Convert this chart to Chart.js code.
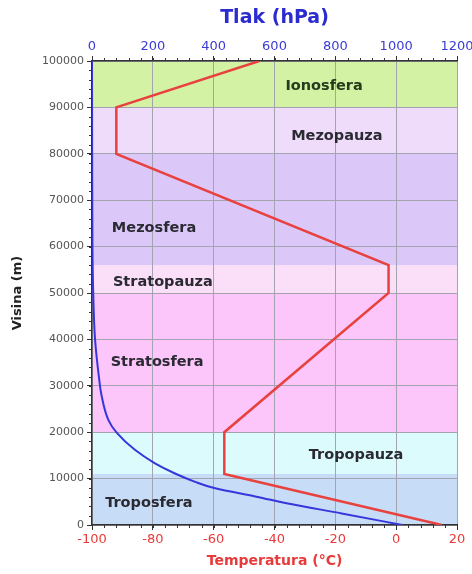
<!DOCTYPE html>
<html>
<head>
<meta charset="utf-8">
<script src="https://cdn.jsdelivr.net/npm/chart.js@4/dist/chart.umd.min.js"></script>
<style>
  html, body { margin: 0; padding: 0; background: #fff; }
  #wrap { width: 472px; height: 574px; }
</style>
</head>
<body>
<div id="wrap"><canvas id="chart"></canvas></div>
<script>
// temperature profile (°C vs altitude m)
const tempAlt = [0, 11000, 20000, 50000, 56000, 80000, 90000, 100000];
const tempVal = [15, -56.5, -56.5, -2.5, -2.5, -92, -92, -45];

// pressure profile (hPa vs altitude m)
const presAlt = [0, 2500, 4450, 6100, 7900, 9300, 11100, 13300, 16200, 19900, 22600, 28400, 31200, 40000, 50000, 60000, 80000, 100000];
const presVal = [1020, 821, 658, 540, 405, 339, 273, 207, 141, 81, 54, 30, 24, 10, 4, 1.5, 0.5, 0];

// atmosphere layers
const layerNames = ['Troposfera', 'Tropopauza', 'Stratosfera', 'Stratopauza', 'Mezosfera', 'Mezopauza', 'Ionosfera'];
const layerFrom = [0, 11000, 20000, 50000, 56000, 80000, 90000];
const layerTo = [11000, 20000, 50000, 56000, 80000, 90000, 100000];

const layerColors = ['#c6dcf7', '#dcfbfc', '#fcc6fb', '#fbdff9', '#dbc8f8', '#efdcfa', '#d3f2a4'];
// label anchor in data units: [temperature, altitude]
const labelAnchor = [[-81.3, 4700], [-13.2, 15100], [-78.6, 35100], [-76.7, 52400], [-79.6, 64000], [-19.5, 83800], [-23.7, 94600]];

const font = '"DejaVu Sans", Verdana, sans-serif';

const bands = {
  id: 'bands',
  beforeDraw(chart) {
    const { ctx, chartArea: a, scales } = chart;
    const y = scales.y;
    ctx.save();
    layerNames.forEach((n, i) => {
      const top = y.getPixelForValue(layerTo[i]);
      const bot = y.getPixelForValue(layerFrom[i]);
      ctx.fillStyle = layerColors[i];
      ctx.fillRect(a.left, top, a.right - a.left, bot - top);
    });
    ctx.restore();
  },
  afterDatasetsDraw(chart) {
    const { ctx, chartArea: a, scales } = chart;
    const y = scales.y, x = scales.xt, xp = scales.xp;
    ctx.save();
    ctx.font = 'bold 14.5px ' + font;
    ctx.textAlign = 'center';
    ctx.textBaseline = 'middle';
    layerNames.forEach((n, i) => {
      ctx.fillStyle = n === 'Ionosfera' ? '#263a1c' : '#2a2a33';
      ctx.fillText(n, x.getPixelForValue(labelAnchor[i][0]), y.getPixelForValue(labelAnchor[i][1]));
    });
    // minor ticks
    ctx.strokeStyle = '#333';
    ctx.lineWidth = 1;
    ctx.beginPath();
    for (let v = -100; v <= 20; v += 4) {
      const px = Math.round(x.getPixelForValue(v)) + 0.5;
      ctx.moveTo(px, a.bottom); ctx.lineTo(px, a.bottom + 3);
    }
    for (let v = 0; v <= 1200; v += 40) {
      const px = Math.round(xp.getPixelForValue(v)) + 0.5;
      ctx.moveTo(px, a.top); ctx.lineTo(px, a.top - 3);
    }
    for (let v = 0; v <= 100000; v += 2000) {
      const py = Math.round(y.getPixelForValue(v)) + 0.5;
      ctx.moveTo(a.left, py); ctx.lineTo(a.left - 3, py);
    }
    ctx.stroke();
    ctx.restore();
  }
};

const plain = v => String(v);

new Chart(document.getElementById('chart'), {
  type: 'scatter',
  data: {
    datasets: [
      {
        label: 'Tlak',
        data: presAlt.map((h, i) => ({ x: presVal[i], y: h })),
        xAxisID: 'xp',
        showLine: true,
        borderColor: '#3636dc',
        borderWidth: 2,
        pointRadius: 0,
        cubicInterpolationMode: 'monotone'
      },
      {
        label: 'Temperatura',
        data: tempAlt.map((h, i) => ({ x: tempVal[i], y: h })),
        xAxisID: 'xt',
        showLine: true,
        borderColor: '#e8413e',
        borderWidth: 2.5,
        pointRadius: 0,
        tension: 0
      }
    ]
  },
  options: {
    indexAxis: 'y',
    responsive: true,
    maintainAspectRatio: false,
    animation: false,
    layout: { padding: { right: 15, left: 0, top: 0, bottom: 0 } },
    plugins: { legend: { display: false }, tooltip: { enabled: false } },
    scales: {
      y: {
        type: 'linear', min: 0, max: 100000,
        ticks: { stepSize: 10000, color: '#555', font: { family: font, size: 11 }, padding: 3, callback: plain },
        grid: { color: '#a4a4b0', tickLength: 5, tickColor: '#333' },
        border: { color: '#333', width: 1.5 },
        title: { display: true, text: 'Visina (m)', color: '#222', font: { family: font, size: 13, weight: 'bold' }, padding: { top: 10, bottom: 0 } },
        afterFit(s) { s.width = 92; s.paddingTop = 0; s.paddingBottom = 0; }
      },
      xt: {
        type: 'linear', position: 'bottom', min: -100, max: 20,
        ticks: { stepSize: 20, color: '#e83a3a', font: { family: font, size: 13 }, padding: 2, callback: plain },
        grid: { color: '#a4a4b0', tickLength: 5, tickColor: '#333' },
        border: { color: '#333', width: 1.5 },
        title: { display: true, text: 'Temperatura (°C)', color: '#e83a3a', font: { family: font, size: 14, weight: 'bold' }, padding: { top: 3 } },
        afterFit(s) { s.height = 49; s.paddingLeft = 0; s.paddingRight = 0; }
      },
      xp: {
        type: 'linear', position: 'top', min: 0, max: 1200,
        ticks: { stepSize: 200, color: '#3b3bd6', font: { family: font, size: 13 }, padding: 2, callback: plain },
        grid: { drawOnChartArea: false, tickLength: 5, tickColor: '#333' },
        border: { color: '#333', width: 1.5 },
        title: { display: true, text: 'Tlak (hPa)', color: '#2b2bcf', font: { family: font, size: 19, weight: 'bold' }, padding: { top: 7, bottom: 2 } },
        afterFit(s) { s.height = 61; s.paddingLeft = 0; s.paddingRight = 0; }
      }
    }
  },
  plugins: [bands]
});
</script>
</body>
</html>
